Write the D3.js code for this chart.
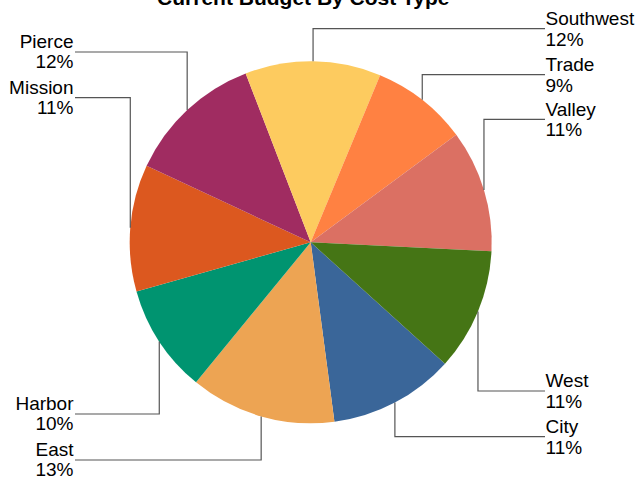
<!DOCTYPE html>
<html>
<head>
<meta charset="utf-8">
<script src="https://cdn.jsdelivr.net/npm/d3@7/dist/d3.min.js"></script>
<style>
  html, body { margin: 0; padding: 0; background: #fff; }
  svg { display: block; font-family: "Liberation Sans", Arial, sans-serif; }
</style>
</head>
<body>
<svg id="chart" width="639" height="479"></svg>
<script>
// ---- data ----
const categories = ["City", "East", "Harbor", "Mission", "Pierce", "Southwest", "Trade", "Valley", "West"];
const shares = [11.2, 13.0, 9.7, 11.3, 12.2, 12.1, 8.6, 10.9, 10.9];
const colors = ["#3A6699", "#EDA453", "#009470", "#DC581F", "#A02C61", "#FDCB5F", "#FF8142", "#DB7063", "#457515"];
const title = "Current Budget By Cost Type";

// ---- layout ----
const W = 639, H = 479;
const cx = 310.7, cy = 242.3, R = 181;
const startDeg = 132.1;
// label leader-line heights (layout only)
const labelLineY = {City: 436.7, East: 460, Harbor: 414, Mission: 97.7, Pierce: 52,
                    Southwest: 28.7, Trade: 74.7, Valley: 119.3, West: 391};
const rightX = 545, leftX = 75;

const svg = d3.select("#chart");
const data = categories.map((c, i) => ({name: c, value: shares[i], color: colors[i]}));
const total = d3.sum(shares);

const pie = d3.pie().sort(null).value(d => d.value)
  .startAngle(startDeg * Math.PI / 180)
  .endAngle(startDeg * Math.PI / 180 + 2 * Math.PI);
const arcs = pie(data);
const arc = d3.arc().innerRadius(0).outerRadius(R);

const g = svg.append("g").attr("transform", `translate(${cx},${cy})`);

// leader lines (behind pie)
const lines = svg.append("g");
arcs.forEach(a => {
  const mid = (a.startAngle + a.endAngle) / 2;
  const px = cx + R * Math.sin(mid);
  const py = cy - R * Math.cos(mid);
  const ly = labelLineY[a.data.name];
  const right = Math.sin(mid) > 0;
  const ex = right ? rightX : leftX;
  lines.append("polyline")
    .attr("points", `${px},${py} ${px},${ly} ${ex},${ly}`)
    .attr("fill", "none")
    .attr("stroke", "#555")
    .attr("stroke-width", 1.2);
  const anchor = right ? "start" : "end";
  const tx = right ? rightX + 0.5 : leftX - 1.5;
  svg.append("text")
    .attr("x", tx).attr("y", ly - 3.7)
    .attr("text-anchor", anchor)
    .attr("font-size", 19)
    .attr("fill", "#000")
    .text(a.data.name);
  svg.append("text")
    .attr("x", tx).attr("y", ly + (right ? 17 : 16.3))
    .attr("text-anchor", anchor)
    .attr("font-size", 19)
    .attr("fill", "#000")
    .text(Math.round(a.data.value / total * 100) + "%");
});

g.selectAll("path.slice")
  .data(arcs)
  .join("path")
  .attr("class", "slice")
  .attr("d", arc)
  .attr("fill", d => d.data.color);

svg.append("text")
  .attr("x", 303.3).attr("y", 5)
  .attr("text-anchor", "middle")
  .attr("font-size", 21)
  .attr("font-weight", "bold")
  .text(title);
</script>
</body>
</html>
